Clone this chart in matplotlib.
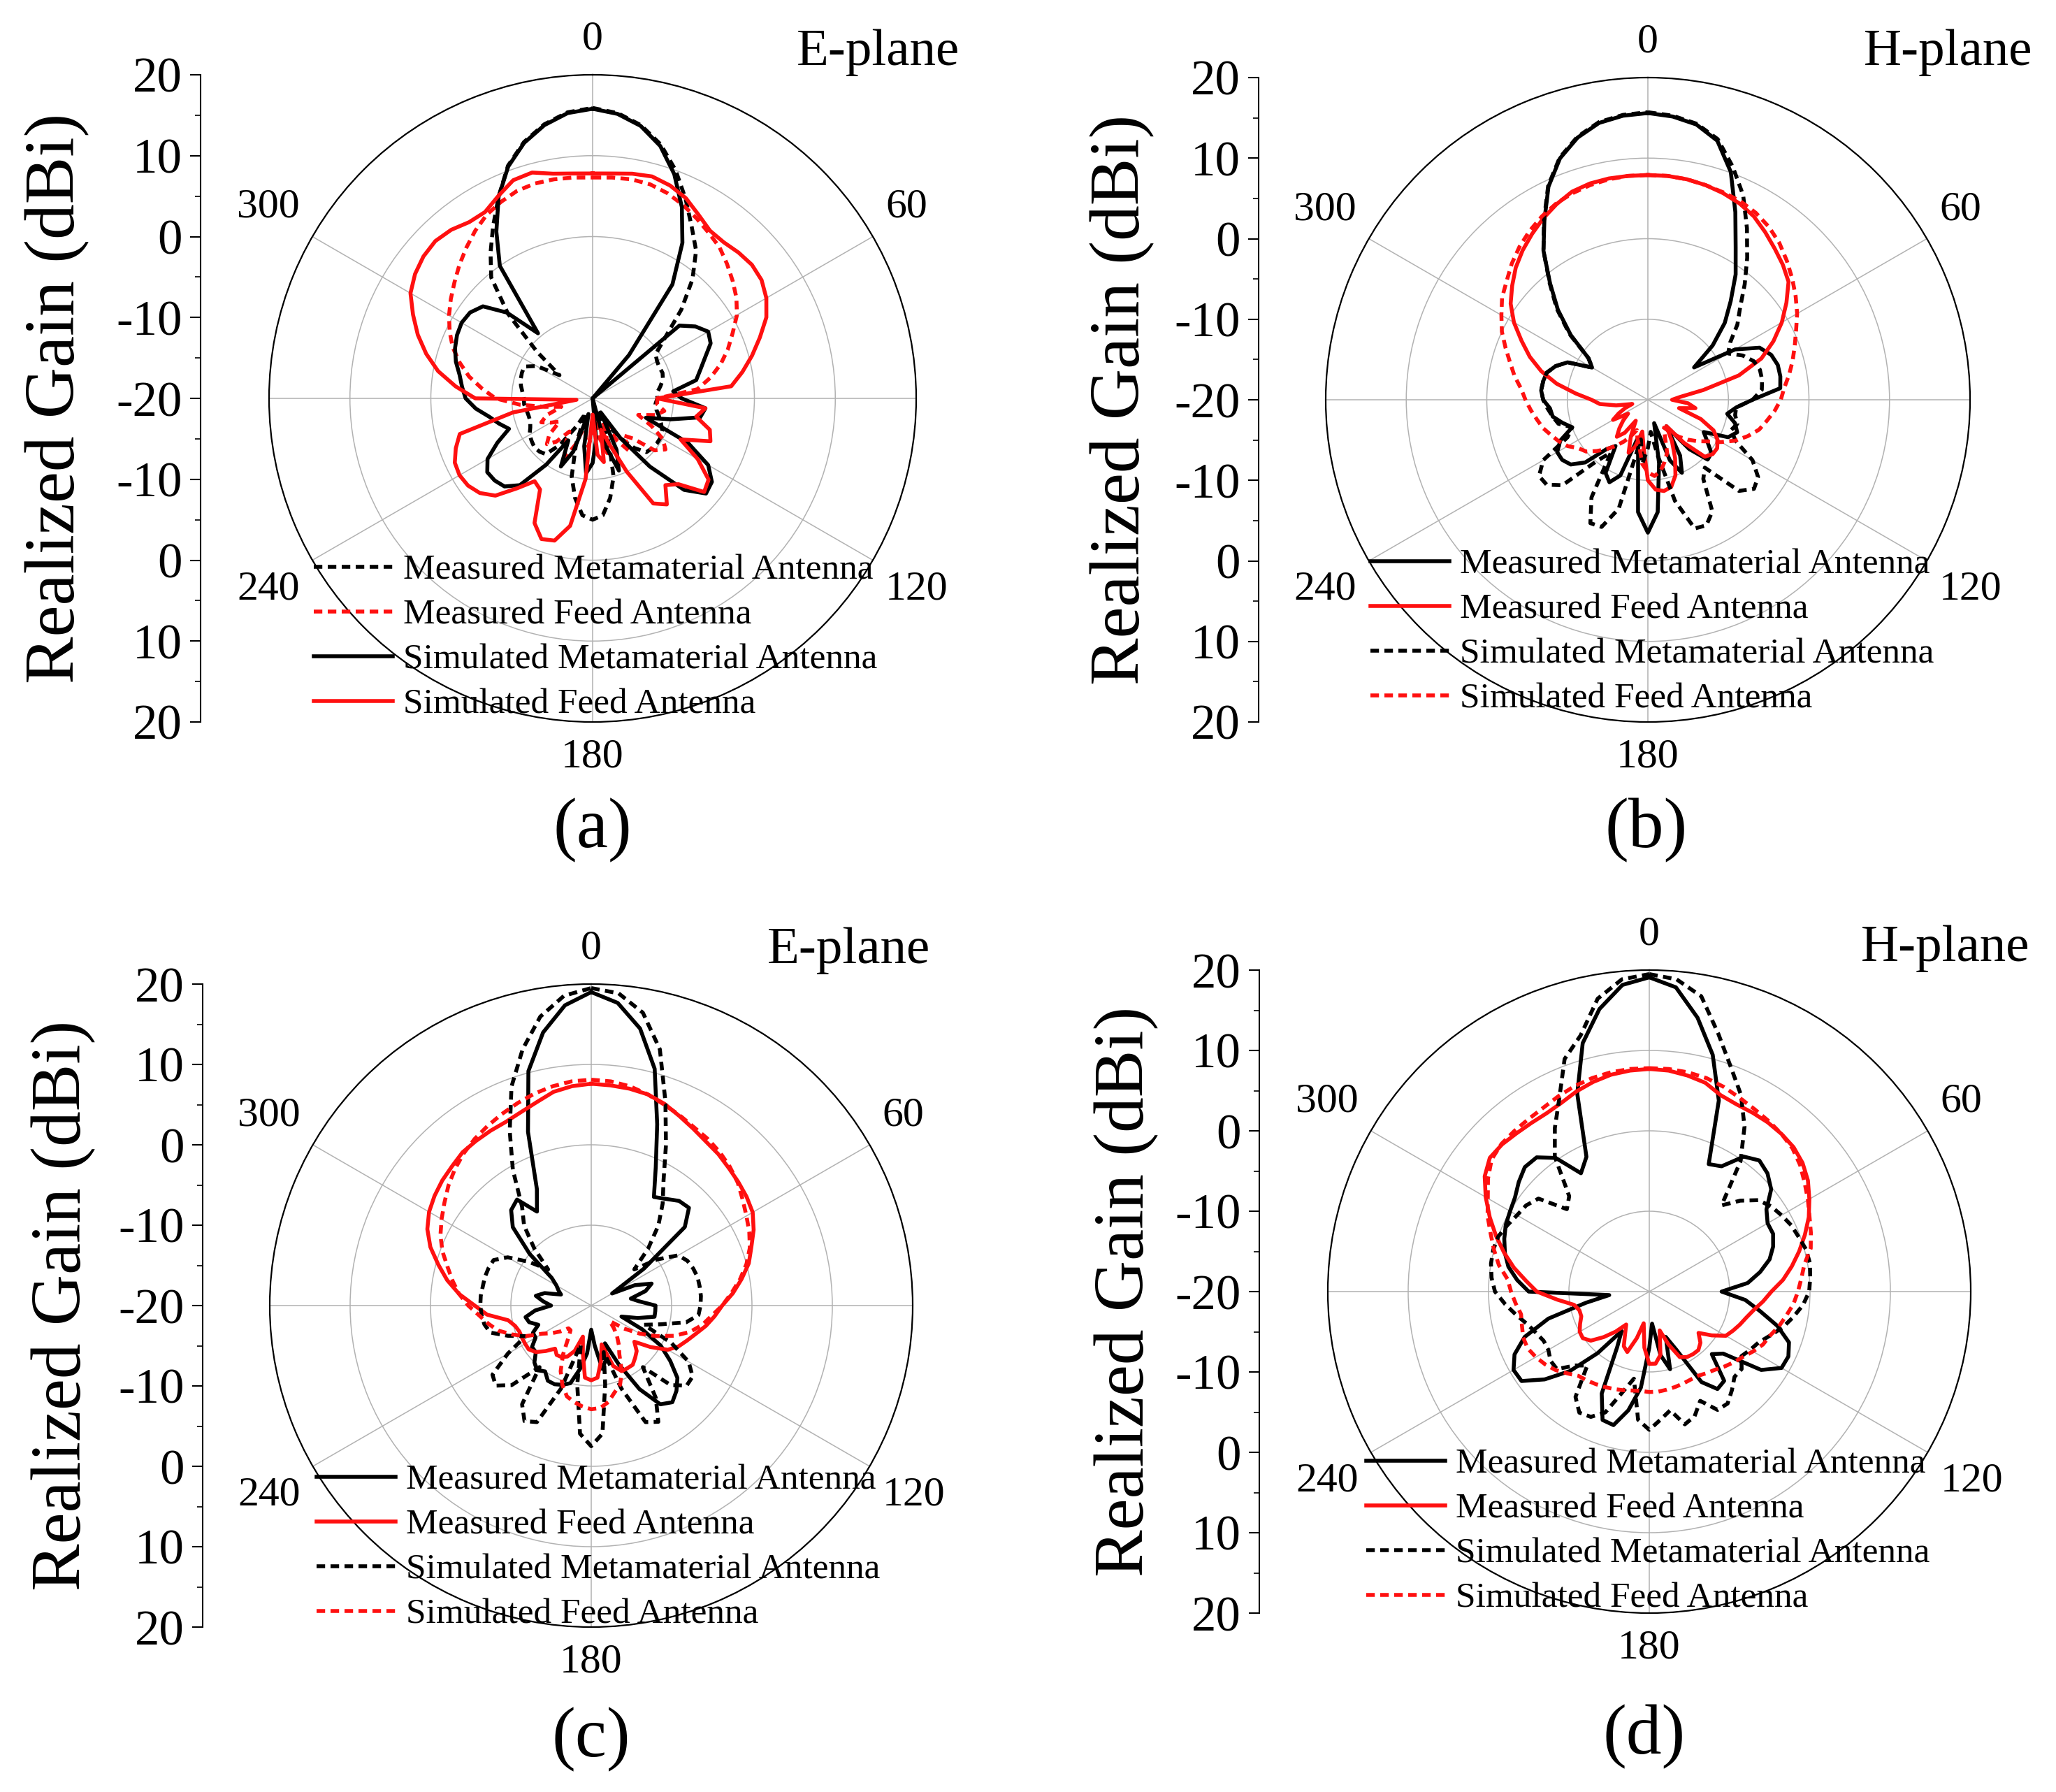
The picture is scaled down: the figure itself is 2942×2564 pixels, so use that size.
import numpy as np
import matplotlib
matplotlib.use("Agg")
import matplotlib.pyplot as plt
from matplotlib.ticker import MultipleLocator

plt.rcParams['font.family'] = ['Liberation Serif', 'DejaVu Serif']

# ---------------- data ----------------
ANGLES_DEG = np.arange(0, 360, 5)          # 0..355 deg
RADIAL_GRID = [-10, 0, 10]
ANGLE_LABELS = [0, 60, 120, 180, 240, 300]
GRID_ANGLES = [0, 60, 90, 120, 180, 240, 270, 300]
GAIN_AXIS_POS = [40, 30, 20, 10, 0, -10, -20, -30, -40]
GAIN_AXIS_LABELS = ["20", "10", "0", "-10", "-20", "-10", "0", "10", "20"]
R_MIN, R_MAX = -20, 20

# Panel (a) E-plane
a_meas_meta = [15.9, 15.4, 14.3, 12.5, 10.0, 7.2, 4.5, 2.3, -0.8, -4.5,
               -8.3, -10.5, -10.8, -10.9, -10.8, -11.0, -11.5, -12.0, -12.0, -12.2,
               -12.0, -11.5, -11.0, -10.5, -10.3, -10.3, -10.4, -10.6, -12.0, -14.0,
               -16.0, -18.0, -14.0, -10.0, -7.5, -5.5, -5.0, -5.5, -7.5, -10.0,
               -14.0, -18.0, -16.0, -13.0, -11.0, -10.7, -10.6, -10.8, -11.0, -11.5,
               -11.8, -11.8, -11.7, -11.5, -11.5, -11.3, -11.0, -10.8, -10.7, -10.7,
               -12.0, -15.0, -11.0, -5.2, -0.5, 2.0, 4.6, 7.5, 10.6, 12.8, 14.4, 15.5]
a_meas_feed = [7.3, 7.4, 7.5, 7.4, 7.0, 6.4, 5.7, 5.0, 4.4, 3.5,
               2.6, 1.7, 0.6, -0.9, -2.2, -3.6, -5.2, -7.0, -12.0, -12.0,
               -11.0, -12.0, -14.0, -12.0, -10.0, -9.0, -10.0, -13.0, -14.0, -12.0,
               -14.0, -17.0, -15.0, -13.0, -15.0, -18.0, -16.0, -14.0, -15.0, -17.0,
               -14.0, -12.0, -13.0, -15.0, -13.0, -12.0, -13.0, -15.0, -14.0, -13.0,
               -14.0, -16.0, -14.0, -11.0, -8.0, -6.3, -4.5, -3.0, -1.6, -0.5,
               0.5, 1.4, 2.3, 3.3, 4.3, 5.3, 6.2, 6.8, 7.3, 7.5, 7.5, 7.4]
a_sim_meta = [15.8, 15.3, 14.2, 12.3, 9.5, 6.1, 2.2, -2.8, -13.0, -20.0,
              -6.0, -4.5, -3.5, -3.9, -5.2, -6.2, -7.0, -10.0, -9.0, -6.0,
              -6.5, -10.0, -13.0, -7.0, -3.5, -2.0, -1.7, -4.0, -9.0, -14.0,
              -18.0, -13.0, -10.5, -14.0, -20.0, -15.0, -12.0, -10.7, -14.0, -18.0,
              -13.0, -10.7, -14.0, -10.0, -6.0, -4.6, -4.2, -4.1, -5.0, -7.0,
              -9.0, -8.0, -7.0, -5.5, -4.3, -3.8, -3.3, -2.5, -1.9, -1.5,
              -1.3, -1.5, -2.3, -5.0, -9.5, 0.0, 3.8, 7.5, 10.5, 12.7, 14.3, 15.4]
a_sim_feed = [7.8, 7.9, 8.2, 8.4, 8.0, 7.3, 6.2, 5.3, 5.2, 5.5,
              5.7, 5.5, 4.8, 3.7, 2.0, 0.4, -1.2, -2.8, -12.0, -6.0,
              -7.0, -5.0, -4.5, -8.0, -5.0, -2.5, -2.0, -5.0, -6.0, -4.0,
              -5.0, -10.0, -14.0, -16.0, -12.0, -13.0, -18.0, -10.0, -4.0, -1.8,
              -1.5, -3.0, -7.0, -7.5, -5.5, -3.0, -1.8, -1.2, -1.0, -1.2,
              -2.0, -3.0, -10.0, -18.0, -5.5, -3.0, -0.6, 1.3, 3.0, 4.5,
              6.0, 6.8, 7.3, 7.5, 7.2, 6.6, 6.6, 7.6, 8.7, 8.9, 8.2, 7.9]

# Panel (b) H-plane
b_meas_meta = [15.6, 15.3, 14.7, 13.3, 10.1, 5.7, 1.8, -1.0, -4.0, -6.5,
               -9.5, -13.0, -7.5, -4.7, -3.7, -3.3, -3.3, -3.5, -7.0, -9.0,
               -10.0, -8.8, -8.2, -9.0, -12.0, -11.0, -9.7, -9.5, -12.0, -16.0,
               -12.0, -10.0, -12.0, -17.0, -12.0, -6.0, -3.5, -6.0, -13.0, -15.0,
               -10.0, -8.7, -9.5, -13.0, -12.0, -9.0, -7.5, -7.0, -7.0, -8.0,
               -10.0, -9.0, -8.0, -7.8, -7.0, -6.7, -6.8, -7.0, -7.8, -9.0,
               -12.0, -11.0, -7.5, -4.2, -1.1, 2.6, 5.7, 9.2, 11.9, 13.7, 14.9, 15.4]
b_meas_feed = [7.9, 7.9, 7.8, 7.6, 7.3, 6.9, 6.3, 5.4, 4.5, 3.7,
               2.8, 1.0, -0.8, -2.8, -5.0, -8.3, -13.0, -16.0, -17.0, -15.0,
               -14.0, -16.0, -13.0, -11.0, -10.0, -9.5, -9.5, -10.0, -13.0, -16.0,
               -14.0, -12.0, -10.0, -8.8, -8.5, -8.8, -10.0, -14.0, -16.0, -14.0,
               -13.0, -15.0, -17.0, -15.0, -14.0, -15.0, -16.0, -17.0, -15.0, -16.0,
               -17.0, -18.0, -16.0, -14.0, -13.0, -11.0, -8.5, -6.3, -4.4, -2.7,
               -0.8, 0.8, 2.0, 3.2, 4.2, 5.1, 6.0, 6.8, 7.5, 7.8, 7.9, 7.9]
b_sim_meta = [15.7, 15.4, 14.8, 13.5, 10.8, 8.0, 4.6, 1.5, -1.3, -3.8,
              -5.5, -7.5, -8.5, -7.0, -6.0, -5.6, -5.6, -5.8, -7.0, -9.0,
              -9.0, -8.5, -9.0, -8.0, -5.0, -3.3, -2.8, -4.0, -9.0, -8.0,
              -4.0, -2.8, -3.0, -7.0, -13.0, -16.0, -14.0, -12.0, -15.0, -6.0,
              -3.2, -3.1, -6.0, -12.0, -10.0, -5.0, -3.6, -3.5, -5.0, -9.0,
              -10.0, -8.5, -8.0, -7.5, -7.0, -6.7, -6.8, -7.0, -7.8, -9.0,
              -12.0, -11.0, -7.3, -4.0, -1.0, 2.6, 5.8, 9.3, 12.0, 13.8, 15.0, 15.5]
b_sim_feed = [7.9, 7.9, 7.8, 7.6, 7.4, 7.2, 6.8, 6.2, 5.4, 4.4,
              3.4, 2.4, 1.4, 0.3, -0.6, -1.4, -2.2, -3.0, -3.5, -4.2,
              -5.0, -5.7, -6.8, -8.0, -9.5, -11.0, -12.0, -13.0, -14.0, -15.0,
              -16.0, -15.0, -13.0, -12.0, -11.0, -10.5, -11.0, -12.0, -14.0, -15.0,
              -16.0, -15.0, -14.0, -13.0, -12.0, -11.0, -10.0, -9.5, -8.5, -7.8,
              -7.2, -6.5, -6.0, -5.4, -4.8, -4.2, -3.2, -2.3, -1.2, 0.0,
              1.0, 2.1, 2.9, 3.9, 4.8, 5.6, 6.3, 6.9, 7.3, 7.6, 7.8, 7.9]

# Panel (c) E-plane
c_meas_meta = [19.0, 17.8, 15.0, 10.5, 4.0, -1.0, -4.4, -3.8, -3.0, -2.8,
               -4.8, -12.0, -17.0, -14.0, -12.0, -13.0, -15.0, -14.0, -12.0, -12.0,
               -12.0, -14.0, -16.0, -13.0, -10.0, -8.0, -6.0, -5.0, -4.3, -5.0,
               -8.0, -12.0, -15.0, -13.0, -12.0, -15.0, -17.0, -14.0, -12.0, -10.0,
               -9.5, -9.2, -9.2, -10.0, -9.5, -10.0, -11.0, -11.0, -12.0, -12.0,
               -13.0, -12.0, -11.7, -13.0, -15.0, -14.0, -13.0, -14.0, -16.0, -15.5,
               -15.0, -14.0, -10.0, -6.2, -4.5, -3.9, -6.5, -4.0, 3.0, 10.2, 14.5, 17.5]
c_meas_feed = [7.6, 7.5, 7.4, 7.2, 6.7, 6.0, 5.4, 4.9, 4.6, 4.2,
               3.9, 3.6, 3.2, 2.3, 1.2, 0.3, -1.0, -2.3, -3.7, -4.6,
               -5.5, -6.5, -7.3, -8.0, -9.0, -11.0, -13.0, -12.0, -11.5, -11.0,
               -11.0, -11.0, -12.0, -15.0, -13.0, -11.0, -10.7, -11.0, -14.0, -16.0,
               -14.0, -13.0, -12.6, -12.5, -13.0, -12.0, -11.0, -10.5, -10.5, -10.5,
               -10.5, -10.2, -9.5, -7.0, -5.5, -3.5, -1.8, -0.3, 1.3, 2.5,
               3.3, 3.8, 4.2, 4.5, 4.9, 5.0, 5.1, 5.2, 5.6, 6.2, 7.0, 7.4]
c_sim_meta = [19.5, 19.0, 17.0, 13.0, 7.0, 2.0, -2.0, -4.5, -7.0, -10.0,
              -13.0, -10.0, -7.5, -6.8, -6.5, -6.3, -6.3, -6.3, -6.4, -6.6,
              -8.0, -11.0, -13.0, -9.0, -6.0, -4.6, -4.5, -6.0, -10.0, -6.0,
              -3.3, -4.0, -9.0, -14.0, -10.0, -4.0, -2.5, -4.0, -10.0, -15.0,
              -9.0, -4.0, -3.4, -5.0, -10.0, -6.0, -4.5, -5.0, -8.0, -11.0,
              -9.0, -7.0, -6.5, -6.3, -6.2, -6.2, -6.3, -6.3, -6.4, -6.6,
              -8.0, -10.5, -13.0, -10.0, -7.0, -5.0, -0.5, 4.0, 9.0, 13.0, 16.5, 18.7]
c_sim_feed = [8.1, 8.0, 7.7, 7.2, 6.6, 6.1, 5.6, 5.3, 4.9, 4.4,
              3.8, 3.0, 2.3, 1.7, 1.0, 0.0, -1.2, -2.5, -3.7, -5.0,
              -6.0, -7.3, -9.0, -11.0, -13.0, -15.0, -17.0, -16.0, -15.0, -14.0,
              -13.0, -11.0, -9.5, -8.8, -7.8, -7.2, -7.1, -7.4, -7.8, -8.3,
              -9.5, -11.0, -13.0, -15.0, -16.0, -16.0, -15.0, -14.0, -13.0, -11.0,
              -9.5, -8.0, -7.0, -6.0, -4.7, -3.5, -2.5, -1.5, -0.3, 0.7,
              1.5, 2.3, 3.2, 4.0, 4.7, 5.3, 5.8, 6.3, 6.8, 7.3, 7.7, 8.0]

# Panel (d) H-plane
d_meas_meta = [19.1, 18.0, 14.6, 10.5, 5.3, -2.5, -2.0, 0.5, 1.3, 0.8,
               -0.2, -2.2, -3.0, -3.0, -3.6, -4.5, -6.0, -7.7, -11.0, -8.0,
               -6.0, -3.5, -1.5, -0.9, -1.0, -3.0, -8.0, -9.0, -5.5, -5.2,
               -7.0, -12.0, -14.0, -10.0, -12.0, -16.0, -13.0, -8.0, -5.0, -2.8,
               -3.0, -6.0, -12.0, -14.0, -10.0, -6.0, -3.0, -0.6, -0.5, -1.5,
               -3.5, -7.0, -12.0, -15.0, -5.0, -3.5, -2.2, -1.4, -0.8, -0.3,
               0.0, 0.4, 1.2, 1.9, 1.8, 0.3, -3.0, -1.5, 6.2, 12.0, 15.7, 18.3]
d_meas_feed = [7.7, 7.6, 7.3, 6.9, 6.0, 5.7, 5.7, 5.7, 5.6, 5.4,
               4.9, 4.1, 3.0, 1.9, 0.6, -0.7, -2.0, -3.3, -4.8, -5.8,
               -6.8, -7.5, -8.0, -8.5, -9.0, -10.5, -12.0, -11.0, -10.5, -10.5,
               -10.6, -11.0, -13.0, -15.0, -12.0, -11.0, -11.0, -13.0, -16.0, -14.0,
               -12.0, -12.5, -14.0, -15.0, -13.5, -12.0, -10.5, -9.9, -10.0, -10.5,
               -11.0, -11.0, -10.5, -8.5, -6.0, -4.6, -2.9, -1.3, 0.3, 1.9,
               3.5, 5.0, 5.9, 5.9, 5.7, 5.6, 5.6, 5.9, 6.5, 7.0, 7.4, 7.6]
d_sim_meta = [19.5, 19.0, 17.3, 13.2, 9.7, 7.0, 3.7, -0.2, -6.0, -4.0,
              -2.3, -1.5, -1.0, -0.5, -0.2, 0.2, 0.3, 0.1, -0.1, -0.8,
              -1.8, -2.8, -4.0, -5.0, -5.5, -6.0, -5.0, -5.0, -4.0, -3.0,
              -3.0, -5.0, -3.5, -2.9, -5.0, -4.0, -2.8, -4.0, -9.0, -7.0,
              -4.0, -2.8, -2.6, -4.0, -8.0, -7.0, -5.0, -5.0, -5.5, -5.5,
              -5.0, -4.3, -3.2, -2.0, -0.8, -0.3, 0.0, 0.1, 0.0, -0.5,
              -1.0, -1.3, -2.0, -5.5, -4.5, 0.5, 3.5, 6.5, 10.8, 13.0, 17.0, 19.0]
d_sim_feed = [7.8, 7.8, 7.7, 7.5, 7.1, 6.6, 6.2, 5.9, 5.6, 5.2,
              4.5, 3.6, 2.8, 2.0, 1.4, 0.8, -0.4, -1.0, -1.5, -2.0,
              -2.7, -3.3, -4.0, -4.4, -5.1, -5.8, -6.3, -6.8, -7.3, -7.6,
              -7.9, -7.9, -7.8, -7.7, -7.6, -7.5, -7.5, -7.6, -7.5, -7.3,
              -7.1, -6.9, -6.7, -6.5, -6.3, -5.6, -4.8, -4.2, -3.7, -3.3,
              -3.3, -3.6, -3.8, -3.3, -2.8, -2.3, -1.0, 0.0, 1.0, 2.2,
              3.2, 4.5, 5.6, 6.0, 6.1, 6.2, 6.4, 6.8, 7.2, 7.5, 7.7, 7.8]

LEG_MEAS_META = "Measured Metamaterial Antenna"
LEG_MEAS_FEED = "Measured Feed Antenna"
LEG_SIM_META = "Simulated Metamaterial Antenna"
LEG_SIM_FEED = "Simulated Feed Antenna"

# ---------------- styles / layout ----------------
RED = "#ff1010"
BLACK = "#000000"
SOLID = "-"
DASHED = (0, (2.2, 1.4))
LW = 4.0

W, H = 2942, 2564
fig = plt.figure(figsize=(W / 100, H / 100), dpi=100)


def fx(px):
    return px / W


def fy(py):
    return 1 - py / H


panels = [
    dict(tag="(a)", title="E-plane", cx=848, cy=570, R=463, axis_x=287, ylab_x=82,
         title_xy=(1256, 75), tag_xy=(848, 1188), leg_xy=(449, 815),
         series=[(LEG_MEAS_META, BLACK, DASHED, a_meas_meta),
                 (LEG_MEAS_FEED, RED, DASHED, a_meas_feed),
                 (LEG_SIM_META, BLACK, SOLID, a_sim_meta),
                 (LEG_SIM_FEED, RED, SOLID, a_sim_feed)]),
    dict(tag="(b)", title="H-plane", cx=2358, cy=572, R=461, axis_x=1801, ylab_x=1606,
         title_xy=(2788, 75), tag_xy=(2356, 1188), leg_xy=(1961, 807),
         series=[(LEG_MEAS_META, BLACK, SOLID, b_meas_meta),
                 (LEG_MEAS_FEED, RED, SOLID, b_meas_feed),
                 (LEG_SIM_META, BLACK, DASHED, b_sim_meta),
                 (LEG_SIM_FEED, RED, DASHED, b_sim_feed)]),
    dict(tag="(c)", title="E-plane", cx=846, cy=1868, R=460, axis_x=290, ylab_x=91,
         title_xy=(1214, 1360), tag_xy=(846, 2489), leg_xy=(453, 2117),
         series=[(LEG_MEAS_META, BLACK, SOLID, c_meas_meta),
                 (LEG_MEAS_FEED, RED, SOLID, c_meas_feed),
                 (LEG_SIM_META, BLACK, DASHED, c_sim_meta),
                 (LEG_SIM_FEED, RED, DASHED, c_sim_feed)]),
    dict(tag="(d)", title="H-plane", cx=2360, cy=1848, R=460, axis_x=1802, ylab_x=1612,
         title_xy=(2784, 1357), tag_xy=(2353, 2485), leg_xy=(1955, 2094),
         series=[(LEG_MEAS_META, BLACK, SOLID, d_meas_meta),
                 (LEG_MEAS_FEED, RED, SOLID, d_meas_feed),
                 (LEG_SIM_META, BLACK, DASHED, d_sim_meta),
                 (LEG_SIM_FEED, RED, DASHED, d_sim_feed)]),
]

theta_closed = np.deg2rad(np.append(ANGLES_DEG, 360))

for p in panels:
    cx, cy, R = p["cx"], p["cy"], p["R"]
    ax = fig.add_axes([fx(cx - R), fy(cy + R), 2 * R / W, 2 * R / H], projection="polar")
    ax.set_theta_zero_location("N")
    ax.set_theta_direction(-1)
    ax.set_ylim(R_MIN, R_MAX)
    ax.set_yticks(RADIAL_GRID)
    ax.set_yticklabels([])
    ax.set_xticks(np.deg2rad(GRID_ANGLES))
    ax.set_xticklabels([])
    ax.set_xticks(np.deg2rad(np.arange(0, 360, 30)), minor=True)
    ax.tick_params(axis="x", which="major", length=0)
    ax.tick_params(axis="x", which="minor", length=9, width=1.3, direction="in", color="#444444")
    ax.grid(True, color="#b2b2b2", linewidth=1.1)
    ax.spines["polar"].set_linewidth(1.6)
    ax.patch.set_alpha(0)

    handles = []
    for label, color, ls, vals in p["series"]:
        r = np.clip(np.append(vals, vals[0]), R_MIN, R_MAX)
        (ln,) = ax.plot(theta_closed, r, color=color, linestyle=ls, linewidth=LW,
                        label=label, solid_joinstyle="round")
        handles.append(ln)

    # angle labels
    for a in ANGLE_LABELS:
        t = np.deg2rad(a)
        if a in (0, 180):
            x = cx
            y = cy - 1.11 * R * np.cos(t)
            ha = "center"
        else:
            x = cx + 0.905 * R * np.sign(np.sin(t))
            y = cy - 1.18 * R * np.cos(t)
            ha = "left" if np.sin(t) > 0 else "right"
        fig.text(fx(x), fy(y), str(a), ha=ha, va="center", fontsize=43)

    # legend
    lx, ly = p["leg_xy"]
    ax.legend(handles=handles, loc="upper left",
              bbox_to_anchor=(fx(lx), fy(ly - 22)), bbox_transform=fig.transFigure,
              frameon=False, fontsize=37, handlelength=2.2, handletextpad=0.3,
              labelspacing=0.33, borderpad=0, borderaxespad=0)

    # linear gain axis on the left
    vax = fig.add_axes([fx(p["axis_x"]), fy(cy + R), 0.0005, 2 * R / H])
    vax.set_ylim(-40, 40)
    vax.set_yticks(GAIN_AXIS_POS, labels=GAIN_AXIS_LABELS)
    vax.yaxis.set_minor_locator(MultipleLocator(5))
    vax.set_xticks([])
    for s in ("right", "top", "bottom"):
        vax.spines[s].set_visible(False)
    vax.spines["left"].set_linewidth(1.5)
    vax.patch.set_alpha(0)
    vax.tick_params(axis="y", which="major", length=11, width=1.5, labelsize=51, pad=8)
    vax.tick_params(axis="y", which="minor", length=6, width=1.2)

    fig.text(fx(p["ylab_x"]), fy(cy), "Realized Gain (dBi)", rotation=90,
             ha="center", va="center", fontsize=73)
    tx, ty = p["title_xy"]
    fig.text(fx(tx), fy(ty), p["title"], ha="center", va="center", fontsize=54)
    gx, gy = p["tag_xy"]
    fig.text(fx(gx), fy(gy), p["tag"], ha="center", va="center", fontsize=73)

fig.savefig("out.png", dpi=100)
